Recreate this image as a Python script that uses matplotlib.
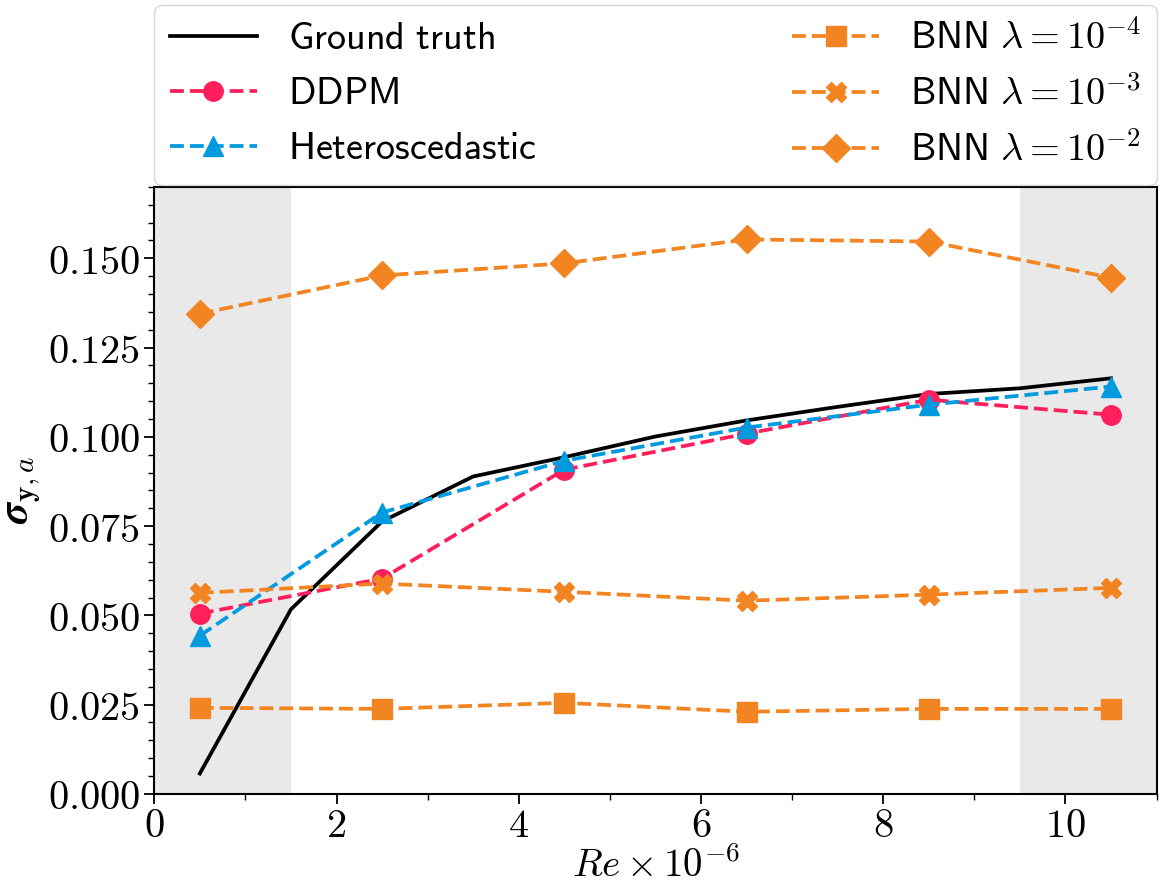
import matplotlib
matplotlib.use("Agg")
import matplotlib.pyplot as plt
from matplotlib.ticker import FormatStrFormatter, MultipleLocator

plt.rcParams['mathtext.fontset'] = 'cm'

# Reynolds number positions (x 1e-6)
re_pts = [0.5, 2.5, 4.5, 6.5, 8.5, 10.5]
re_truth = [0.5, 1.5, 2.5, 3.5, 4.5, 5.5, 6.5, 7.5, 8.5, 9.5, 10.5]

truth = [0.0057, 0.0517, 0.0763, 0.0889, 0.0943, 0.1001, 0.1046, 0.1084, 0.1120, 0.1136, 0.1164]
ddpm = [0.0505, 0.0603, 0.0908, 0.1009, 0.1104, 0.1062]
hetero = [0.0443, 0.0788, 0.0933, 0.1026, 0.1090, 0.1141]
bnn_4 = [0.0241, 0.0238, 0.0255, 0.0230, 0.0238, 0.0238]
bnn_3 = [0.0563, 0.0589, 0.0566, 0.0541, 0.0558, 0.0577]
bnn_2 = [0.1345, 0.1452, 0.1486, 0.1553, 0.1547, 0.1446]

# extrapolation regions
shade_regions = [(0.0, 1.5), (9.5, 11.0)]

c_ddpm = '#FF1F5B'
c_het = '#009ADE'
c_bnn = '#F28522'

fig, ax = plt.subplots(figsize=(11.6, 8.86), dpi=100)
fig.subplots_adjust(left=0.133, right=0.997, bottom=0.104, top=0.789)

for a, b in shade_regions:
    ax.axvspan(a, b, color='#e9e9e9', zorder=0, lw=0)

lw = 2.7
ms = 14
ax.plot(re_truth, truth, '-', color='black', lw=lw, label=r'$\mathsf{Ground\ truth}$')
ax.plot(re_pts, ddpm, '--o', color=c_ddpm, lw=lw, ms=ms, label=r'$\mathsf{DDPM}$')
ax.plot(re_pts, hetero, '--^', color=c_het, lw=lw, ms=ms, label=r'$\mathsf{Heteroscedastic}$')
ax.plot(re_pts, bnn_4, '--s', color=c_bnn, lw=lw, ms=ms, label=r'$\mathsf{BNN}\ \lambda = 10^{-4}$')
ax.plot(re_pts, bnn_3, '--X', color=c_bnn, lw=lw, ms=ms, label=r'$\mathsf{BNN}\ \lambda = 10^{-3}$')
ax.plot(re_pts, bnn_2, '--D', color=c_bnn, lw=lw, ms=ms, label=r'$\mathsf{BNN}\ \lambda = 10^{-2}$')

ax.set_xlim(0, 11)
ax.set_ylim(0, 0.17)
ax.xaxis.set_major_locator(MultipleLocator(2))
ax.xaxis.set_minor_locator(MultipleLocator(1))
ax.yaxis.set_major_locator(MultipleLocator(0.025))
ax.yaxis.set_minor_locator(MultipleLocator(0.005))
ax.xaxis.set_major_formatter(FormatStrFormatter(r'$%d$'))
ax.yaxis.set_major_formatter(FormatStrFormatter(r'$%.3f$'))
ax.tick_params(which='major', labelsize=29, length=7, width=1.3)
ax.tick_params(axis='x', which='major', pad=2)
ax.tick_params(which='minor', length=4, width=1.0)
for s in ax.spines.values():
    s.set_linewidth(1.5)

ax.set_xlabel(r'$Re \times 10^{-6}$', fontsize=28, labelpad=0)
ax.set_ylabel(r'$\boldsymbol{\sigma}_{\mathbf{y},a}$', fontsize=30, labelpad=4)

ax.legend(loc='lower left', bbox_to_anchor=(0.0, 1.004, 1.0, 0.2), mode='expand',
          ncol=2, fontsize=27.5, borderaxespad=0, handlelength=2.3)

fig.savefig('out.png', dpi=100)
